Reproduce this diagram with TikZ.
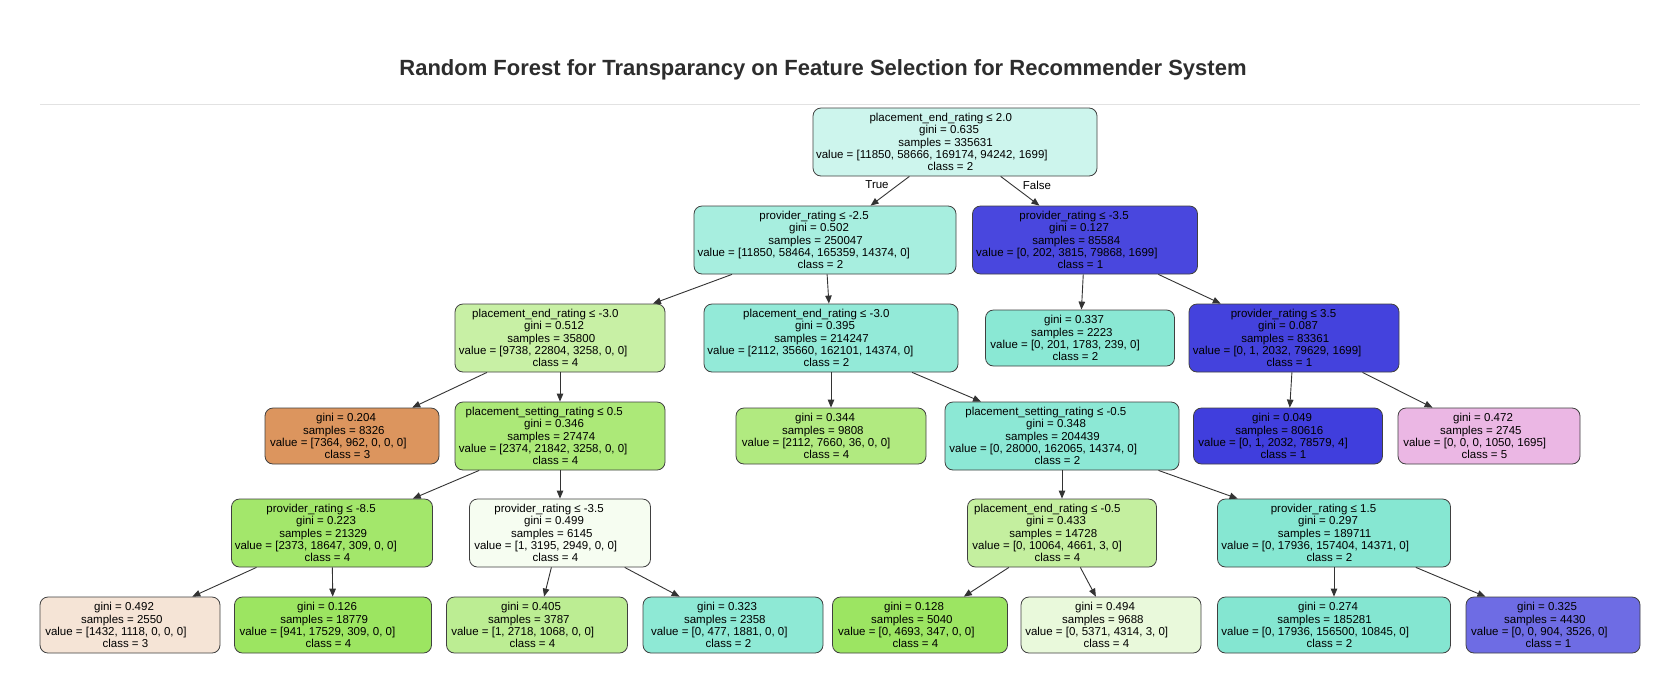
\documentclass[tikz,border=0pt]{standalone}
\usepackage{fontspec}
\setmainfont{Liberation Sans}
\usetikzlibrary{arrows.meta}

% class fill colours (blended towards white by node purity)
\definecolor{cR0}{RGB}{205,245,237}
\definecolor{cA}{RGB}{167,238,223}
\definecolor{cB}{RGB}{73,71,222}
\definecolor{cC}{RGB}{200,240,165}
\definecolor{cD}{RGB}{147,234,216}
\definecolor{cE}{RGB}{138,232,212}
\definecolor{cF}{RGB}{68,66,221}
\definecolor{cG}{RGB}{220,149,94}
\definecolor{cH}{RGB}{172,233,120}
\definecolor{cI}{RGB}{177,234,128}
\definecolor{cJ}{RGB}{140,232,213}
\definecolor{cK}{RGB}{64,62,221}
\definecolor{cL}{RGB}{235,183,228}
\definecolor{cM}{RGB}{163,231,107}
\definecolor{cN}{RGB}{246,253,241}
\definecolor{cO}{RGB}{196,239,159}
\definecolor{cP}{RGB}{134,231,210}
\definecolor{cQ}{RGB}{245,228,214}
\definecolor{cR}{RGB}{156,229,97}
\definecolor{cS}{RGB}{188,237,147}
\definecolor{cT}{RGB}{142,233,213}
\definecolor{cU}{RGB}{156,229,98}
\definecolor{cV}{RGB}{233,249,219}
\definecolor{cW}{RGB}{132,230,209}
\definecolor{cX}{RGB}{110,108,228}
\definecolor{titlegray}{RGB}{45,45,45}
\definecolor{rulegray}{RGB}{226,226,226}

% one text line, drawn a little left of the box centre
\newcommand\rowtxt[1]{\makebox[1.2\width][l]{#1}}
% split node: test, gini, samples, value, class
\newcommand\splittxt[5]{\rowtxt{#1}\\\rowtxt{gini = #2}\\\rowtxt{samples = #3}\\\rowtxt{value = [#4]}\\\rowtxt{class = #5}}
% leaf node: gini, samples, value, class
\newcommand\leaftxt[4]{\rowtxt{gini = #1}\\\rowtxt{samples = #2}\\\rowtxt{value = [#3]}\\\rowtxt{class = #4}}

\begin{document}
\begin{tikzpicture}[x=1pt,y=-1pt,
  treebox/.style={draw=black!75, line width=0.8pt, rounded corners=8pt,
    align=center, inner sep=0pt, font=\fontsize{11.5}{12.2}\selectfont},
  split/.style={treebox, minimum height=68pt},
  leaf/.style={treebox, minimum height=56pt},
  link/.style={draw=black!80, line width=0.9pt,
    -{Triangle[length=8pt,width=6.5pt]}},
  lbl/.style={font=\fontsize{11.5}{12.2}\selectfont, inner sep=0pt}]

\useasboundingbox[fill=white] (0,0) rectangle (1680,694);

% heading and rule
\node[font=\bfseries\fontsize{22}{26}\selectfont, text=titlegray] (title) at (823,70)
  {Random Forest for Transparancy on Feature Selection for Recommender System};
\coordinate (ruleL) at (40,104);
\coordinate (ruleR) at (1640,104);
\draw[rulegray, line width=1pt] (ruleL) -- (ruleR);

% depth 0
\node[split, fill=cR0, minimum width=284pt] (R0) at (955,142)
  {\splittxt{placement\_end\_rating ≤ 2.0}{0.635}{335631}{11850, 58666, 169174, 94242, 1699}{2}};

% depth 1
\node[split, fill=cA, minimum width=262pt] (A) at (825,240)
  {\splittxt{provider\_rating ≤ -2.5}{0.502}{250047}{11850, 58464, 165359, 14374, 0}{2}};
\node[split, fill=cB, minimum width=225pt] (B) at (1085,240)
  {\splittxt{provider\_rating ≤ -3.5}{0.127}{85584}{0, 202, 3815, 79868, 1699}{1}};

% depth 2
\node[split, fill=cC, minimum width=210pt] (C) at (560,338)
  {\splittxt{placement\_end\_rating ≤ -3.0}{0.512}{35800}{9738, 22804, 3258, 0, 0}{4}};
\node[split, fill=cD, minimum width=254pt] (D) at (831,338)
  {\splittxt{placement\_end\_rating ≤ -3.0}{0.395}{214247}{2112, 35660, 162101, 14374, 0}{2}};
\node[leaf, fill=cE, minimum width=189pt] (E) at (1080,338)
  {\leaftxt{0.337}{2223}{0, 201, 1783, 239, 0}{2}};
\node[split, fill=cF, minimum width=210pt] (F) at (1294,338)
  {\splittxt{provider\_rating ≤ 3.5}{0.087}{83361}{0, 1, 2032, 79629, 1699}{1}};

% depth 3
\node[leaf, fill=cG, minimum width=174pt] (G) at (352,436)
  {\leaftxt{0.204}{8326}{7364, 962, 0, 0, 0}{3}};
\node[split, fill=cH, minimum width=210pt] (H) at (560,436)
  {\splittxt{placement\_setting\_rating ≤ 0.5}{0.346}{27474}{2374, 21842, 3258, 0, 0}{4}};
\node[leaf, fill=cI, minimum width=190pt] (I) at (831,436)
  {\leaftxt{0.344}{9808}{2112, 7660, 36, 0, 0}{4}};
\node[split, fill=cJ, minimum width=234pt] (J) at (1062,436)
  {\splittxt{placement\_setting\_rating ≤ -0.5}{0.348}{204439}{0, 28000, 162065, 14374, 0}{2}};
\node[leaf, fill=cK, minimum width=189pt] (K) at (1288,436)
  {\leaftxt{0.049}{80616}{0, 1, 2032, 78579, 4}{1}};
\node[leaf, fill=cL, minimum width=182pt] (L) at (1489,436)
  {\leaftxt{0.472}{2745}{0, 0, 0, 1050, 1695}{5}};

% depth 4
\node[split, fill=cM, minimum width=201pt] (M) at (332,533)
  {\splittxt{provider\_rating ≤ -8.5}{0.223}{21329}{2373, 18647, 309, 0, 0}{4}};
\node[split, fill=cN, minimum width=181pt] (N) at (560,533)
  {\splittxt{provider\_rating ≤ -3.5}{0.499}{6145}{1, 3195, 2949, 0, 0}{4}};
\node[split, fill=cO, minimum width=189pt] (O) at (1062,533)
  {\splittxt{placement\_end\_rating ≤ -0.5}{0.433}{14728}{0, 10064, 4661, 3, 0}{4}};
\node[split, fill=cP, minimum width=233pt] (P) at (1334,533)
  {\splittxt{provider\_rating ≤ 1.5}{0.297}{189711}{0, 17936, 157404, 14371, 0}{2}};

% depth 5
\node[leaf, fill=cQ, minimum width=180pt] (Q) at (130,625)
  {\leaftxt{0.492}{2550}{1432, 1118, 0, 0, 0}{3}};
\node[leaf, fill=cR, minimum width=197pt] (R) at (333,625)
  {\leaftxt{0.126}{18779}{941, 17529, 309, 0, 0}{4}};
\node[leaf, fill=cS, minimum width=181pt] (S) at (537,625)
  {\leaftxt{0.405}{3787}{1, 2718, 1068, 0, 0}{4}};
\node[leaf, fill=cT, minimum width=180pt] (T) at (733,625)
  {\leaftxt{0.323}{2358}{0, 477, 1881, 0, 0}{2}};
\node[leaf, fill=cU, minimum width=175pt] (U) at (920,625)
  {\leaftxt{0.128}{5040}{0, 4693, 347, 0, 0}{4}};
\node[leaf, fill=cV, minimum width=180pt] (V) at (1111,625)
  {\leaftxt{0.494}{9688}{0, 5371, 4314, 3, 0}{4}};
\node[leaf, fill=cW, minimum width=233pt] (W) at (1334,625)
  {\leaftxt{0.274}{185281}{0, 17936, 156500, 10845, 0}{2}};
\node[leaf, fill=cX, minimum width=174pt] (X) at (1553,625)
  {\leaftxt{0.325}{4430}{0, 0, 904, 3526, 0}{1}};

% connectors
\draw[link] (R0) -- (A);
\draw[link] (R0) -- (B);
\draw[link] (A) -- (C);
\draw[link] (A) -- (D);
\draw[link] (B) -- (E);
\draw[link] (B) -- (F);
\draw[link] (C) -- (G);
\draw[link] (C) -- (H);
\draw[link] (D) -- (I);
\draw[link] (D) -- (J);
\draw[link] (F) -- (K);
\draw[link] (F) -- (L);
\draw[link] (H) -- (M);
\draw[link] (H) -- (N);
\draw[link] (J) -- (O);
\draw[link] (J) -- (P);
\draw[link] (M) -- (Q);
\draw[link] (M) -- (R);
\draw[link] (N) -- (S);
\draw[link] (N) -- (T);
\draw[link] (O) -- (U);
\draw[link] (O) -- (V);
\draw[link] (P) -- (W);
\draw[link] (P) -- (X);

% branch labels
\node[lbl] (truelbl) at (877,185) {True};
\node[lbl] (falselbl) at (1037,185) {False};
\end{tikzpicture}
\end{document}
